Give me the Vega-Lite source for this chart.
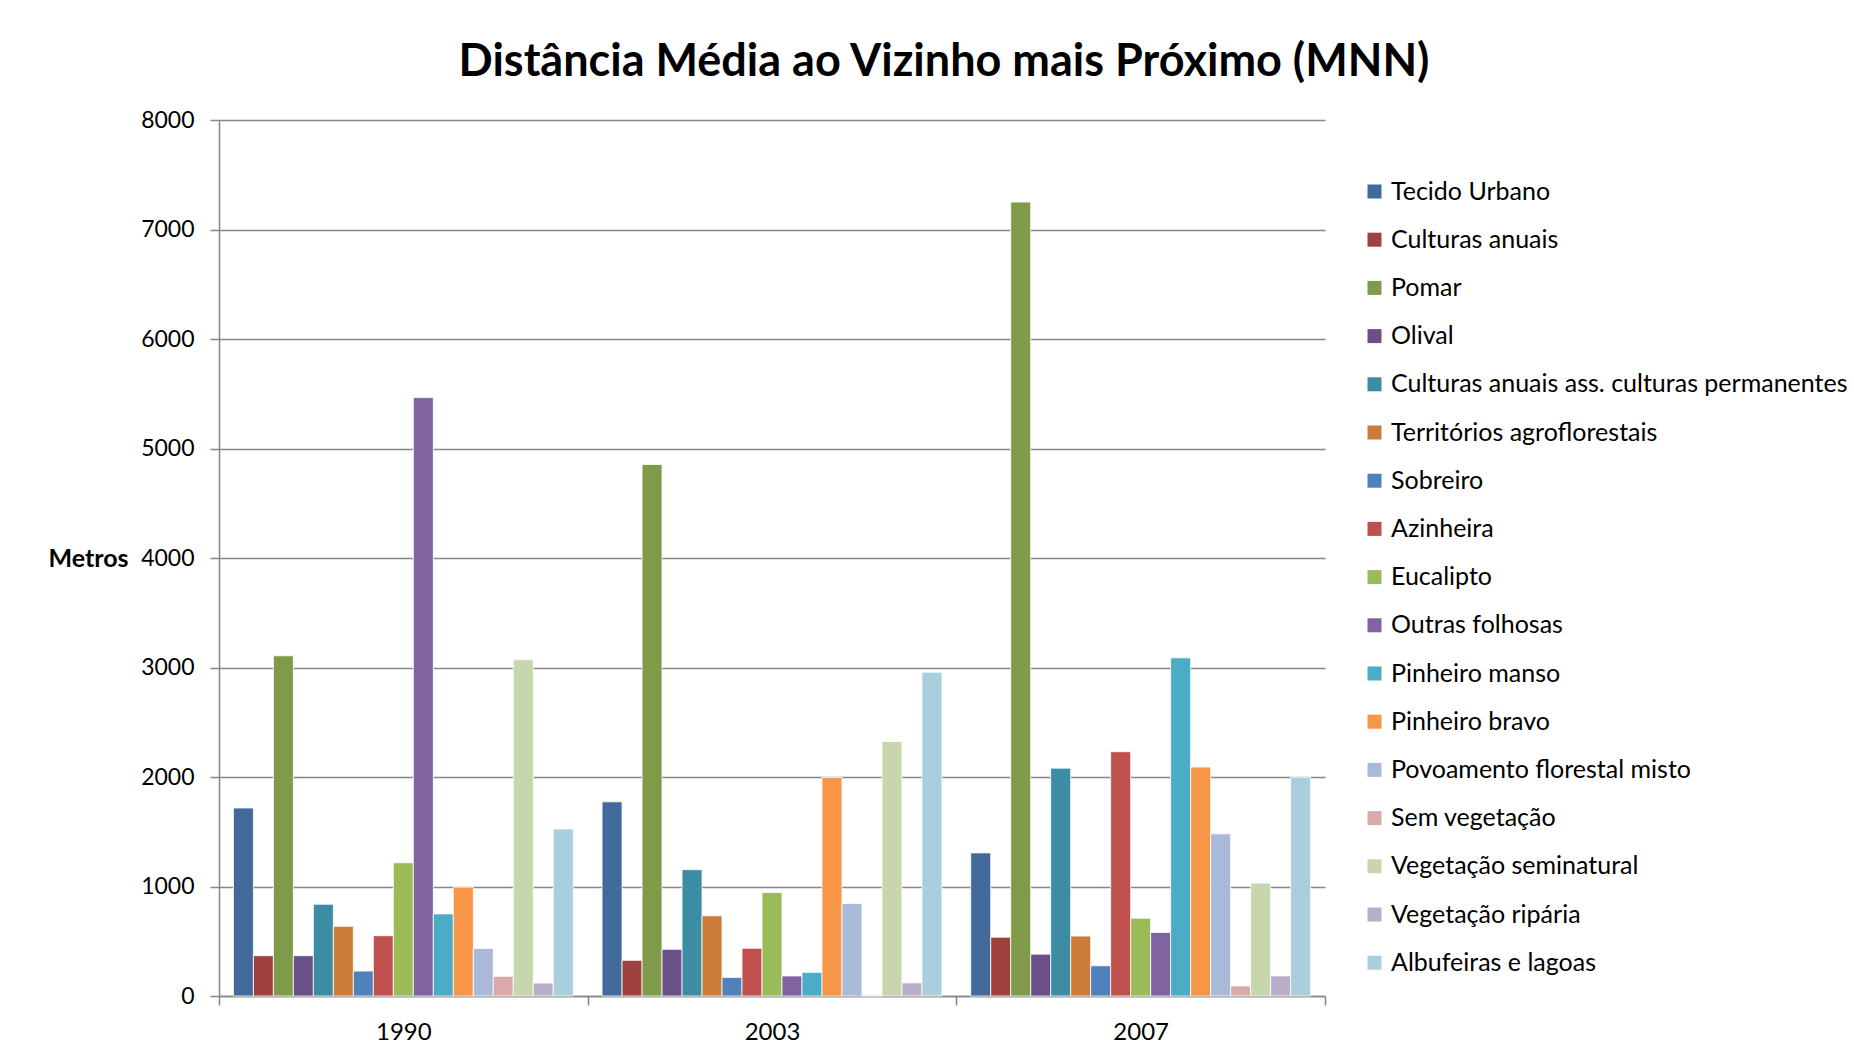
{
  "$schema": "https://vega.github.io/schema/vega-lite/v6.json",
  "width": 1106,
  "height": 876,
  "padding": {"left": 47, "top": 40, "right": 0, "bottom": 0},
  "background": "white",
  "title": {
    "text": "Distância Média ao Vizinho mais Próximo (MNN)",
    "font": "Lato",
    "fontSize": 45,
    "fontWeight": "bold",
    "color": "#000000",
    "anchor": "middle",
    "frame": "group",
    "dx": 172,
    "offset": 24
  },
  "config": {
    "view": {"stroke": null},
    "font": "Lato"
  },
  "data": {
    "values": [
      {"ano": "1990", "classe": "Tecido Urbano", "valor": 1717},
      {"ano": "1990", "classe": "Culturas anuais", "valor": 368},
      {"ano": "1990", "classe": "Pomar", "valor": 3107},
      {"ano": "1990", "classe": "Olival", "valor": 368},
      {"ano": "1990", "classe": "Culturas anuais ass. culturas permanentes", "valor": 838},
      {"ano": "1990", "classe": "Territórios agroflorestais", "valor": 636},
      {"ano": "1990", "classe": "Sobreiro", "valor": 228},
      {"ano": "1990", "classe": "Azinheira", "valor": 551},
      {"ano": "1990", "classe": "Eucalipto", "valor": 1217},
      {"ano": "1990", "classe": "Outras folhosas", "valor": 5465},
      {"ano": "1990", "classe": "Pinheiro manso", "valor": 750},
      {"ano": "1990", "classe": "Pinheiro bravo", "valor": 995},
      {"ano": "1990", "classe": "Povoamento florestal misto", "valor": 434},
      {"ano": "1990", "classe": "Sem vegetação", "valor": 180},
      {"ano": "1990", "classe": "Vegetação seminatural", "valor": 3070},
      {"ano": "1990", "classe": "Vegetação ripária", "valor": 118},
      {"ano": "1990", "classe": "Albufeiras e lagoas", "valor": 1526},
      {"ano": "2003", "classe": "Tecido Urbano", "valor": 1773},
      {"ano": "2003", "classe": "Culturas anuais", "valor": 326},
      {"ano": "2003", "classe": "Pomar", "valor": 4854},
      {"ano": "2003", "classe": "Olival", "valor": 426},
      {"ano": "2003", "classe": "Culturas anuais ass. culturas permanentes", "valor": 1154},
      {"ano": "2003", "classe": "Territórios agroflorestais", "valor": 732},
      {"ano": "2003", "classe": "Sobreiro", "valor": 170},
      {"ano": "2003", "classe": "Azinheira", "valor": 436},
      {"ano": "2003", "classe": "Eucalipto", "valor": 945},
      {"ano": "2003", "classe": "Outras folhosas", "valor": 183},
      {"ano": "2003", "classe": "Pinheiro manso", "valor": 216},
      {"ano": "2003", "classe": "Pinheiro bravo", "valor": 1996},
      {"ano": "2003", "classe": "Povoamento florestal misto", "valor": 845},
      {"ano": "2003", "classe": "Sem vegetação", "valor": 0},
      {"ano": "2003", "classe": "Vegetação seminatural", "valor": 2325},
      {"ano": "2003", "classe": "Vegetação ripária", "valor": 120},
      {"ano": "2003", "classe": "Albufeiras e lagoas", "valor": 2957},
      {"ano": "2007", "classe": "Tecido Urbano", "valor": 1307},
      {"ano": "2007", "classe": "Culturas anuais", "valor": 537},
      {"ano": "2007", "classe": "Pomar", "valor": 7251},
      {"ano": "2007", "classe": "Olival", "valor": 382},
      {"ano": "2007", "classe": "Culturas anuais ass. culturas permanentes", "valor": 2081},
      {"ano": "2007", "classe": "Territórios agroflorestais", "valor": 547},
      {"ano": "2007", "classe": "Sobreiro", "valor": 276},
      {"ano": "2007", "classe": "Azinheira", "valor": 2231},
      {"ano": "2007", "classe": "Eucalipto", "valor": 711},
      {"ano": "2007", "classe": "Outras folhosas", "valor": 581},
      {"ano": "2007", "classe": "Pinheiro manso", "valor": 3088},
      {"ano": "2007", "classe": "Pinheiro bravo", "valor": 2091},
      {"ano": "2007", "classe": "Povoamento florestal misto", "valor": 1481},
      {"ano": "2007", "classe": "Sem vegetação", "valor": 92},
      {"ano": "2007", "classe": "Vegetação seminatural", "valor": 1031},
      {"ano": "2007", "classe": "Vegetação ripária", "valor": 184},
      {"ano": "2007", "classe": "Albufeiras e lagoas", "valor": 1999}
    ]
  },
  "mark": {"type": "bar", "stroke": "white", "strokeWidth": 1, "strokeOpacity": 0.8},
  "encoding": {
    "x": {
      "field": "ano",
      "type": "nominal",
      "scale": {"paddingInner": 0, "paddingOuter": 0},
      "axis": {
        "title": null,
        "labelAngle": 0,
        "labelFont": "Lato",
        "labelFontSize": 24,
        "labelColor": "#000000",
        "labelPadding": 15,
        "tickBand": "extent",
        "tickSize": 9,
        "tickWidth": 1.5,
        "tickColor": "#868686",
        "domainColor": "#868686",
        "domainWidth": 1.5,
        "grid": false
      }
    },
    "xOffset": {
      "field": "classe",
      "type": "nominal",
      "sort": null,
      "scale": {"paddingInner": 0, "paddingOuter": 0.72}
    },
    "y": {
      "field": "valor",
      "type": "quantitative",
      "scale": {"domain": [0, 8000], "nice": false},
      "axis": {
        "title": "Metros",
        "titleAngle": 0,
        "titleFont": "Lato",
        "titleFontSize": 25,
        "titleFontWeight": "bold",
        "titleColor": "#000000",
        "titleAlign": "right",
        "titleBaseline": "middle",
        "titleX": -91,
        "titleY": 438,
        "values": [0, 1000, 2000, 3000, 4000, 5000, 6000, 7000, 8000],
        "format": "d",
        "labelFont": "Lato",
        "labelFontSize": 23,
        "labelColor": "#000000",
        "labelPadding": 16,
        "tickSize": 9,
        "tickWidth": 1.5,
        "tickColor": "#868686",
        "domainColor": "#868686",
        "domainWidth": 1.5,
        "grid": true,
        "gridColor": "#868686",
        "gridWidth": 1.5
      }
    },
    "color": {
      "field": "classe",
      "type": "nominal",
      "sort": null,
      "scale": {
        "domain": ["Tecido Urbano", "Culturas anuais", "Pomar", "Olival", "Culturas anuais ass. culturas permanentes", "Territórios agroflorestais", "Sobreiro", "Azinheira", "Eucalipto", "Outras folhosas", "Pinheiro manso", "Pinheiro bravo", "Povoamento florestal misto", "Sem vegetação", "Vegetação seminatural", "Vegetação ripária", "Albufeiras e lagoas"],
        "range": ["#416A9B", "#9F413F", "#7F9A48", "#695087", "#3C8CA3", "#CC7B38", "#4F81BD", "#C0504D", "#9BBB59", "#8064A2", "#4BACC6", "#F79646", "#AAB9D7", "#D9AAA9", "#C7D6AC", "#B9AECA", "#A9CFDC"]
      },
      "legend": {
        "title": null,
        "orient": "none",
        "legendX": 1143,
        "legendY": 59,
        "symbolType": "square",
        "symbolSize": 196,
        "symbolStrokeWidth": 0,
        "labelFont": "Lato",
        "labelFontSize": 25,
        "labelColor": "#000000",
        "labelLimit": 700,
        "labelOffset": 4,
        "rowPadding": 22.2
      }
    }
  }
}
